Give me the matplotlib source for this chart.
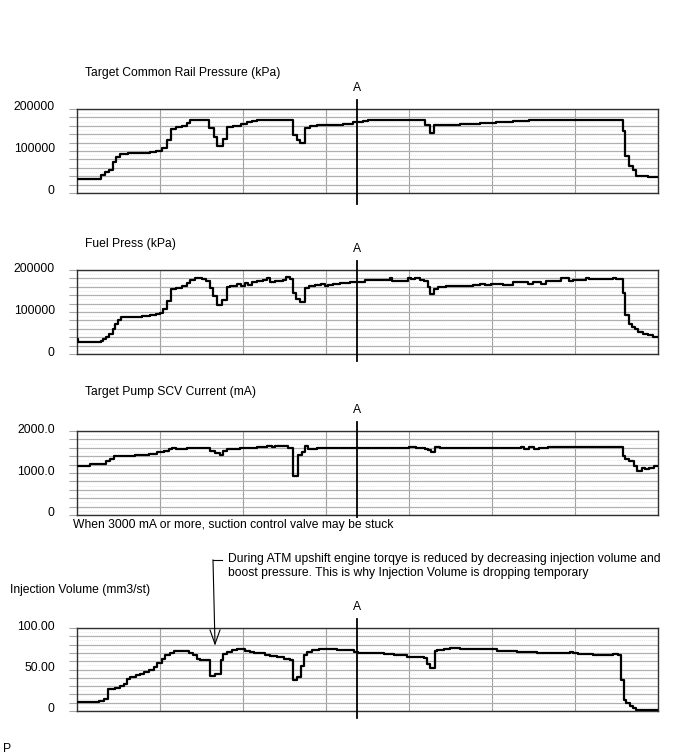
import matplotlib.pyplot as plt
from matplotlib.lines import Line2D
from matplotlib import transforms

plt.rcParams['font.family'] = ['Liberation Sans', 'DejaVu Sans']
plt.rcParams['font.size'] = 8.7

# time in grid divisions (7 across the plot), A = marker position
t_end = 7.0
t_a = 3.37

rail_t = [0.0, 0.285, 0.337, 0.39, 0.438, 0.47, 0.518, 0.618, 0.88, 0.952, 1.02, 1.08,
          1.128, 1.193, 1.261, 1.329, 1.361, 1.594, 1.651, 1.691, 1.755, 1.803, 1.884,
          1.972, 2.044, 2.104, 2.165, 2.598, 2.647, 2.687, 2.751, 2.807, 2.888, 3.088,
          3.209, 3.329, 3.45, 3.507, 4.188, 4.248, 4.297, 4.609, 4.85, 5.05, 5.25, 5.45,
          5.67, 6.573, 6.605, 6.653, 6.693, 6.733, 6.874]
rail_v = [33000, 44000, 50000, 55000, 74000, 86000, 92000, 96000, 98000, 101000, 108000, 127000,
          152000, 157000, 160000, 167000, 173000, 155000, 134000, 113000, 129000, 157000, 160000,
          165000, 168000, 171000, 174000, 138000, 126000, 120000, 155000, 159000, 161000, 163000,
          165000, 168000, 171000, 174000, 163000, 142000, 161000, 164000, 166000, 168000, 171000, 173000,
          175000, 147000, 87000, 65000, 54000, 41000, 37000]

fuel_t = [0.0, 0.012, 0.285, 0.317, 0.345, 0.39, 0.43, 0.462, 0.49, 0.526, 0.566, 0.719,
          0.779, 0.88, 0.952, 1.0, 1.04, 1.08, 1.128, 1.193, 1.261, 1.321, 1.361, 1.426,
          1.502, 1.554, 1.602, 1.643, 1.687, 1.747, 1.803, 1.843, 1.924, 1.98, 2.024, 2.064,
          2.104, 2.165, 2.245, 2.285, 2.325, 2.386, 2.486, 2.518, 2.566, 2.598, 2.639, 2.687,
          2.751, 2.8, 2.867, 2.936, 2.988, 3.028, 3.088, 3.169, 3.289, 3.41, 3.467, 3.768,
          3.796, 3.836, 3.988, 4.028, 4.068, 4.128, 4.176, 4.228, 4.257, 4.297, 4.349, 4.441,
          4.77, 4.85, 4.91, 4.99, 5.13, 5.25, 5.431, 5.491, 5.591, 5.651, 5.832, 5.924,
          5.972, 6.132, 6.172, 6.453, 6.493, 6.573, 6.605, 6.645, 6.685, 6.725, 6.765, 6.814,
          6.874, 6.934]
fuel_v = [35000, 28700, 31000, 35000, 40600, 48600, 60600, 71700, 80500, 87600, 89200, 87600,
          90000, 92400, 95600, 98800, 106800, 125900, 153800, 157800, 162500, 168000, 176000, 180000,
          177700, 173700, 156200, 137800, 116300, 127500, 158600, 162500, 165700, 162500, 168000, 164000,
          172000, 173700, 176000, 180000, 170500, 173700, 176000, 182500, 178500, 144200, 130700, 122700,
          157800, 161700, 164000, 165700, 161700, 164000, 167300, 169000, 170500, 172000, 176000, 180000,
          173700, 174500, 181700, 177700, 180000, 176000, 173700, 160000, 142600, 154600, 160000, 162500,
          164000, 165700, 164000, 165700, 164000, 170500, 167300, 172000, 167300, 173700, 180000, 174500,
          176000, 181700, 178500, 180000, 178500, 144200, 94000, 72500, 64500, 59000, 52600, 47800,
          44600, 40600]

scv_t = [0.0, 0.16, 0.353, 0.393, 0.449, 0.702, 0.862, 0.963, 1.043, 1.103, 1.143, 1.195,
         1.324, 1.604, 1.665, 1.725, 1.765, 1.805, 1.966, 2.166, 2.286, 2.347, 2.387, 2.547,
         2.599, 2.667, 2.708, 2.748, 2.788, 2.888, 3.788, 4.0, 4.088, 4.188, 4.228, 4.269,
         4.309, 4.369, 5.351, 5.391, 5.451, 5.511, 5.571, 5.671, 6.573, 6.605, 6.653, 6.713,
         6.753, 6.806, 6.846, 6.894, 6.954]
scv_v = [1176, 1216, 1296, 1344, 1416, 1440, 1464, 1496, 1528, 1560, 1600, 1560,
         1592, 1520, 1480, 1432, 1520, 1560, 1592, 1616, 1640, 1616, 1640, 1600,
         936, 1440, 1496, 1640, 1560, 1600, 1584, 1608, 1584, 1560, 1536, 1496,
         1616, 1584, 1608, 1576, 1608, 1576, 1584, 1616, 1416, 1336, 1296, 1176,
         1040, 1120, 1096, 1120, 1160]

inj_t = [0.0, 0.261, 0.321, 0.369, 0.462, 0.522, 0.562, 0.602, 0.643, 0.715, 0.763, 0.803,
         0.863, 0.924, 0.964, 1.024, 1.064, 1.124, 1.173, 1.345, 1.398, 1.446, 1.486, 1.598,
         1.667, 1.735, 1.759, 1.807, 1.867, 1.928, 1.976, 2.028, 2.088, 2.137, 2.269, 2.329,
         2.41, 2.49, 2.562, 2.602, 2.651, 2.703, 2.731, 2.771, 2.831, 2.912, 2.972, 3.133,
         3.34, 3.38, 3.7, 3.82, 3.98, 4.18, 4.212, 4.252, 4.308, 4.34, 4.42, 4.492,
         4.62, 5.06, 5.3, 5.54, 5.82, 5.94, 5.98, 6.04, 6.1, 6.22, 6.46, 6.52,
         6.56, 6.588, 6.62, 6.668, 6.7, 6.74]
inj_v = [11.2, 12.0, 14.4, 26.4, 28.0, 30.4, 32.8, 38.4, 41.2, 43.2, 44.8, 47.2,
         49.6, 53.2, 58.0, 62.4, 67.2, 70.4, 72.0, 70.4, 67.2, 63.2, 61.2, 42.4,
         44.0, 61.2, 69.2, 71.2, 73.2, 75.2, 74.4, 72.0, 71.2, 70.4, 68.0, 66.4,
         64.8, 63.2, 61.2, 37.2, 41.2, 54.4, 67.2, 71.2, 73.2, 74.4, 75.2, 73.6,
         71.2, 70.4, 69.2, 67.2, 65.2, 64.0, 57.2, 52.0, 72.0, 74.0, 75.2, 76.0,
         74.4, 72.8, 71.2, 70.0, 70.4, 71.2, 70.4, 69.2, 68.4, 67.2, 68.8, 67.2,
         37.2, 13.2, 9.2, 6.0, 3.2, 1.2]

panels = [
    ("Target Common Rail Pressure (kPa)", rail_t, rail_v, 200000, ["0", "100000", "200000"]),
    ("Fuel Press (kPa)", fuel_t, fuel_v, 200000, ["0", "100000", "200000"]),
    ("Target Pump SCV Current (mA)", scv_t, scv_v, 2000, ["0", "1000.0", "2000.0"]),
    ("Injection Volume (mm3/st)", inj_t, inj_v, 100, ["0", "50.00", "100.00"]),
]

W, H = 688, 755
fig = plt.figure(figsize=(W / 100, H / 100), dpi=100)

# axes top px, axes bottom px, title x/y px, how far the A line runs below the axes
boxes = [(109, 193, 85, 73, -0.13), (270, 354, 85, 244, -0.08),
         (431, 515, 85, 392, -0.02), (628, 711, 10, 590, -0.09)]


def draw_panel(ax, t, v, ymax, labels, a_low):
    ax.step(t + [t_end], v + [v[-1]], where='post', color='black', lw=1.6, zorder=3)
    ax.set_xlim(0, t_end)
    ax.set_ylim(0, ymax)
    ax.set_yticks([ymax * i / 10 for i in range(11)])
    tl = [''] * 11
    tl[0], tl[5], tl[10] = labels
    ax.set_yticklabels(tl)
    ax.set_yticks([ymax * (i + 0.5) / 10 for i in range(10)], minor=True)
    ax.set_xticks(range(1, 7))
    ax.tick_params(axis='x', length=0, labelbottom=False)
    ax.tick_params(axis='y', which='major', length=6, width=0.8, color='#a8a8a8', pad=10)
    ax.tick_params(axis='y', which='minor', length=0)
    ax.grid(axis='y', which='major', color='#b0b0b0', lw=0.9)
    ax.grid(axis='y', which='minor', color='#d0d0d0', lw=0.5, ls=(0, (1, 2)))
    ax.grid(axis='x', which='major', color='#a0a0a0', lw=0.8)
    for s in ax.spines.values():
        s.set_color('#303030')
        s.set_linewidth(1.0)
    # labels sit a little above their gridline
    lift = transforms.ScaledTranslation(0, 3 / 100, fig.dpi_scale_trans)
    for lab in ax.get_yticklabels():
        lab.set_transform(lab.get_transform() + lift)
    ax.axvline(t_a, ymin=a_low, ymax=1.11, color='black', lw=1.3, clip_on=False, zorder=4)
    trans = transforms.blended_transform_factory(ax.transData, ax.transAxes)
    ax.text(t_a, 1.25, "A", transform=trans, ha='center', va='center')


for (title, t, v, ymax, labels), (top, bot, tx, ty, a_low) in zip(panels, boxes):
    ax = fig.add_axes([77 / W, 1 - bot / H, 581 / W, (bot - top) / H])
    draw_panel(ax, t, v, ymax, labels, a_low)
    fig.text(tx / W, 1 - ty / H, title, ha='left', va='center')

fig.text(73 / W, 1 - 525 / H, "When 3000 mA or more, suction control valve may be stuck",
         ha='left', va='center')

fig.text(228 / W, 1 - 566 / H,
         "During ATM upshift engine torqye is reduced by decreasing injection volume and\n"
         "boost pressure. This is why Injection Volume is dropping temporary",
         ha='left', va='center', linespacing=1.25)
fig.add_artist(Line2D([213 / W, 222 / W], [1 - 560 / H, 1 - 560 / H], color='black', lw=0.8))
fig.add_artist(Line2D([213 / W, 215 / W], [1 - 560 / H, 1 - 644 / H], color='black', lw=0.8))
fig.add_artist(Line2D([210 / W, 215 / W, 220 / W], [1 - 630 / H, 1 - 644 / H, 1 - 630 / H],
                      color='black', lw=0.8))

fig.text(3 / W, 1 - 749 / H, "P", ha='left', va='center')

fig.savefig("out.png", dpi=100)
